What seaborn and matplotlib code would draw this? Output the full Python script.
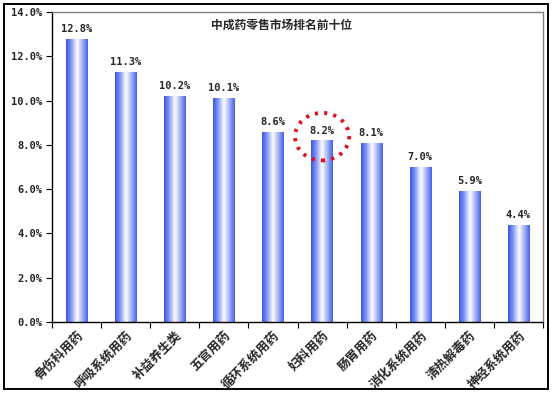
import numpy as np
import pandas as pd
import matplotlib
matplotlib.use("Agg")
import matplotlib.pyplot as plt
from matplotlib.colors import LinearSegmentedColormap
from matplotlib.patches import Ellipse, Rectangle
from matplotlib.ticker import FuncFormatter
import seaborn as sns

categories = ["骨伤科用药", "呼吸系统用药", "补益养生类", "五官用药", "循环系统用药",
              "妇科用药", "肠胃用药", "消化系统用药", "清热解毒药", "神经系统用药"]
shares = [12.8, 11.3, 10.2, 10.1, 8.6, 8.2, 8.1, 7.0, 5.9, 4.4]
title = "中成药零售市场排名前十位"
highlight = "妇科用药"

sns.set_theme(style="white")
plt.rcParams["font.family"] = ["Noto Sans CJK SC", "DejaVu Sans"]
plt.rcParams["font.weight"] = "bold"

df = pd.DataFrame({"cat": categories, "share": shares})

fig = plt.figure(figsize=(5.54, 3.94), dpi=100)
ax = fig.add_axes([52 / 554, 72 / 394, 491 / 554, 310 / 394])

sns.barplot(data=df, x="cat", y="share", ax=ax, width=0.43,
            color="white", edgecolor="none", linewidth=0)

# horizontal blue-white-blue gradient inside each bar
cmap = LinearSegmentedColormap.from_list(
    "bar", ["#3a55e8", "#8a9ef2", "#ffffff", "#a4b3f4", "#4560ea"])
grad = np.linspace(0, 1, 64).reshape(1, -1)
for p in ax.patches:
    x0, y0 = p.get_x(), p.get_y()
    w, h = p.get_width(), p.get_height()
    im = ax.imshow(grad, cmap=cmap, aspect="auto",
                   extent=(x0, x0 + w, y0, y0 + h), zorder=2)
    im.set_clip_path(p)
    ax.text(x0 + w / 2, y0 + h + 0.22, f"{h:.1f}%", ha="center", va="bottom",
            fontsize=7.5, fontweight="bold", family="DejaVu Sans Mono", zorder=3)

# dotted circle around the highlighted label
i = categories.index(highlight)
ax.add_patch(Ellipse((i, shares[i] + 0.17), 1.1, 2.15, fill=False,
                     edgecolor="#e0101a", linestyle=(0, (0.8, 1.6)), linewidth=2.8,
                     zorder=4, clip_on=False))

ax.set_xlim(-0.5, len(categories) - 0.5)
ax.set_ylim(0, 14)
ax.set_yticks(np.arange(0, 14.1, 2))
ax.yaxis.set_major_formatter(FuncFormatter(lambda v, _: f"{v:.1f}%"))
ax.set_xticks(np.arange(-0.5, len(categories), 1), minor=False)
ax.set_xticklabels([])
ax.set_xticks(np.arange(len(categories)), minor=True)
ax.set_xticklabels(categories, minor=True, rotation=45, ha="right",
                   rotation_mode="anchor", fontsize=9, fontweight="bold")
ax.tick_params(axis="x", which="minor", length=0, pad=5)
ax.tick_params(axis="x", which="major", length=4, width=0.8, color="black",
               direction="out", bottom=True)
ax.tick_params(axis="y", length=4, width=0.8, color="black", direction="out",
               left=True, labelsize=7.5, pad=3)
for lab in ax.get_yticklabels():
    lab.set_fontweight("bold")
    lab.set_family("DejaVu Sans Mono")

ax.set_xlabel("")
ax.set_ylabel("")
for side in ["left", "bottom"]:
    ax.spines[side].set_color("black")
    ax.spines[side].set_linewidth(1.0)
for side in ["top", "right"]:
    ax.spines[side].set_color("#808080")
    ax.spines[side].set_linewidth(1.0)

ax.text(0.468, 0.958, title, transform=ax.transAxes, ha="center", va="center",
        fontsize=8.5, fontweight="bold")

# outer chart frame
fig.patches.append(Rectangle((4 / 554, 5 / 394), 544 / 554, 385 / 394,
                             transform=fig.transFigure, fill=False,
                             edgecolor="black", linewidth=1.4))

fig.savefig("out.png", dpi=100)
